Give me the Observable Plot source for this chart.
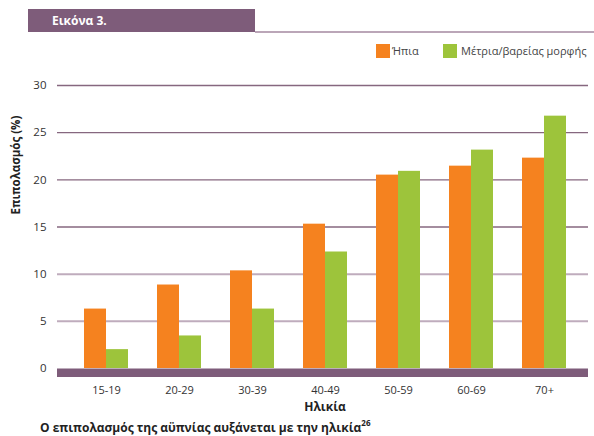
<!DOCTYPE html>
<html><head><meta charset="utf-8">
<script src="https://cdn.jsdelivr.net/npm/d3@7"></script>
<script src="https://cdn.jsdelivr.net/npm/@observablehq/plot@0.6"></script>
<style>
body{margin:0;background:#fff;font-family:"Open Sans",sans-serif;}
#wrap{width:594px;}
#header{position:relative;height:70px;}
#titlebar{position:absolute;left:28px;top:9px;width:227px;height:23px;background:#7e5c7a;color:#fff;font-weight:bold;font-size:12px;line-height:23px;padding-left:24px;box-sizing:border-box;}
#titleline{position:absolute;left:255px;top:31px;width:339px;height:2px;background:#bba6b8;}
.sw{position:absolute;top:44px;width:14px;height:14px;}
.lt{position:absolute;top:43px;font-size:11px;line-height:16px;color:#444;}
#caption{margin-left:40px;padding-top:4px;height:16px;font-weight:bold;font-size:12px;line-height:16px;color:#222;white-space:nowrap;}
#caption sup{font-size:8px;vertical-align:6px;line-height:0;}
</style></head>
<body><div id="wrap">
<div id="header">
  <div id="titlebar">Εικόνα 3.</div>
  <div id="titleline"></div>
  <div class="sw" id="sw0" style="left:376px"></div><div class="lt" id="lt0" style="left:392px"></div>
  <div class="sw" id="sw1" style="left:443px"></div><div class="lt" id="lt1" style="left:461px"></div>
</div>
<div id="chart"></div>
<div id="caption">Ο επιπολασμός της αϋπνίας αυξάνεται με την ηλικία<sup>26</sup></div>
</div>
<script>
const ages = ["15-19","20-29","30-39","40-49","50-59","60-69","70+"];
const mild = [6.3, 8.85, 10.35, 15.3, 20.5, 21.45, 22.3];
const moderateSevere = [2.0, 3.45, 6.3, 12.35, 20.9, 23.15, 26.75];
const seriesNames = ["Ήπια", "Μέτρια/βαρείας μορφής"];
const yTicks = [0, 5, 10, 15, 20, 25, 30];
const gridValues = [5, 10, 15, 20, 25, 30];

const colors = ["#f5821f", "#9dc43b"];
const purple = "#7e5c7a";

document.getElementById("sw0").style.background = colors[0];
document.getElementById("sw1").style.background = colors[1];
document.getElementById("lt0").textContent = seriesNames[0];
document.getElementById("lt1").textContent = seriesNames[1];

const data = ages.map((a, i) => ({age: a, mild: mild[i], mod: moderateSevere[i]}));

const chart = Plot.plot({
  width: 594,
  height: 346,
  marginTop: 15,
  marginBottom: 48,
  marginLeft: 57,
  marginRight: 6,
  style: {fontFamily: "Open Sans", fontSize: "11px", color: "#333", background: "#fff"},
  x: {domain: ages, range: [68, 582], paddingInner: 0.4, paddingOuter: 0.2, label: null},
  y: {domain: [0, 30], label: null},
  marks: [
    Plot.ruleY(gridValues, {stroke: d => d <= 10 ? "#bfacbd" : "#86677f", strokeWidth: d => d <= 10 ? 2 : 1.3}),
    Plot.barY(data, {x: "age", y: "mild", fill: colors[0], insetRight: 22}),
    Plot.barY(data, {x: "age", y: "mod", fill: colors[1], insetLeft: 22}),
    Plot.ruleY([0], {stroke: purple, strokeWidth: 8.5, dy: 4.25}),
    Plot.axisX({tickSize: 0, tickPadding: 18, fontSize: 11, label: null}),
    Plot.axisY({ticks: yTicks, tickSize: 0, tickPadding: 11, fontSize: 11.5, label: null}),
    Plot.text(["Ηλικία"], {frameAnchor: "bottom", dx: 2, dy: 42, fontWeight: "bold", fontSize: 12, fill: "#222"}),
    Plot.text(["Επιπολασμός (%)"], {frameAnchor: "left", rotate: -90, dx: -41, dy: -12.5, fontWeight: "bold", fontSize: 11.5, fill: "#222"})
  ]
});
document.getElementById("chart").appendChild(chart);
</script>
</body></html>
